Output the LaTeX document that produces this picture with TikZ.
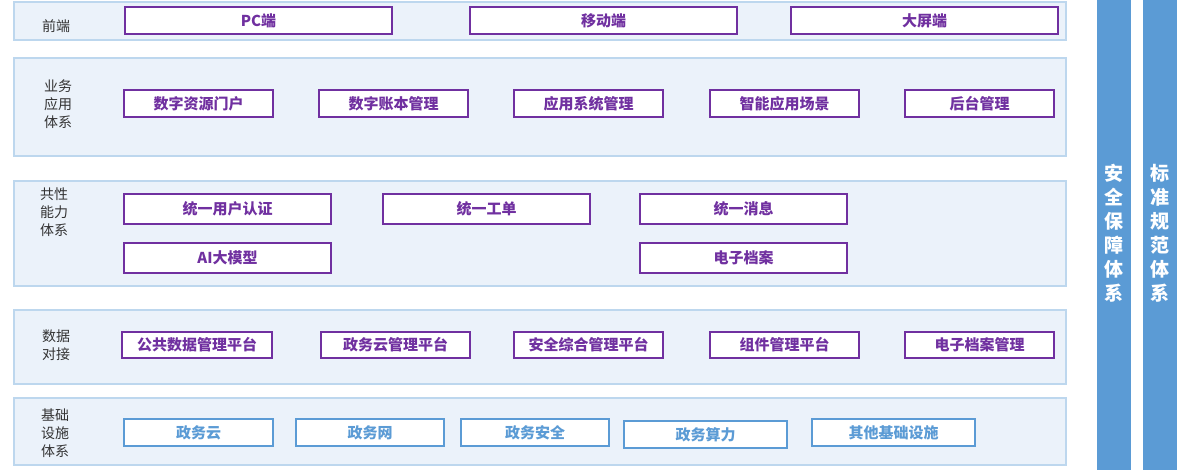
\documentclass[tikz,border=0pt]{standalone}
\usepackage{fontspec}
\newfontfamily\cjk{Noto Sans CJK SC}
\definecolor{panel}{HTML}{EBF2FA}
\definecolor{panelline}{HTML}{BDD7EE}
\definecolor{violet}{HTML}{7030A0}
\definecolor{sky}{HTML}{5B9BD5}
\tikzset{
  layer/.style={draw=panelline, line width=1.5pt, fill=panel},
  item/.style={draw=violet, line width=1.5pt, fill=white, text=violet, font=\cjk\bfseries\fontsize{15}{15}\selectfont},
  base/.style={item, draw=sky, text=sky},
  tag/.style={font=\cjk\fontsize{14}{18}\selectfont, align=center, text=black!80},
  bar/.style={fill=sky, draw=none},
}
\begin{document}
\begin{tikzpicture}[x=1pt,y=-1pt]
  \useasboundingbox (0,0) rectangle (1178,470);
  %layers
  \draw[layer] (14,2) rectangle (1066,40);
  \draw[layer] (14,58) rectangle (1066,156);
  \draw[layer] (14,181) rectangle (1066,286);
  \draw[layer] (14,310) rectangle (1066,384);
  \draw[layer] (14,398) rectangle (1066,465);
  %layer names
  \node[tag] (front) at (56,26) {前端};
  \node[tag] (biz) at (58,104) {业务\\应用\\体系};
  \node[tag] (common) at (54,212) {共性\\能力\\体系};
  \node[tag] (data) at (56,345) {数据\\对接};
  \node[tag] (infra) at (55,433) {基础\\设施\\体系};
  %front
  \draw[item] (125,7) rectangle (392,34) node[midway] (pc) {PC端};
  \draw[item] (470,7) rectangle (737,34) node[midway] (mobile) {移动端};
  \draw[item] (791,7) rectangle (1058,34) node[midway] (screen) {大屏端};
  %business
  \draw[item] (124,90) rectangle (273,117) node[midway] (portal) {数字资源门户};
  \draw[item] (319,90) rectangle (468,117) node[midway] (ledger) {数字账本管理};
  \draw[item] (514,90) rectangle (663,117) node[midway] (appsys) {应用系统管理};
  \draw[item] (710,90) rectangle (859,117) node[midway] (smart) {智能应用场景};
  \draw[item] (905,90) rectangle (1054,117) node[midway] (admin) {后台管理};
  %common
  \draw[item] (124,194) rectangle (331,224) node[midway] (auth) {统一用户认证};
  \draw[item] (383,194) rectangle (590,224) node[midway] (ticket) {统一工单};
  \draw[item] (640,194) rectangle (847,224) node[midway] (msg) {统一消息};
  \draw[item] (124,243) rectangle (331,273) node[midway] (ai) {AI大模型};
  \draw[item] (640,243) rectangle (847,273) node[midway] (archive) {电子档案};
  %data
  \draw[item] (122,332) rectangle (272,358) node[midway] (pubdata) {公共数据管理平台};
  \draw[item] (321,332) rectangle (470,358) node[midway] (cloudmgr) {政务云管理平台};
  \draw[item] (514,332) rectangle (663,358) node[midway] (secmgr) {安全综合管理平台};
  \draw[item] (710,332) rectangle (859,358) node[midway] (compmgr) {组件管理平台};
  \draw[item] (905,332) rectangle (1054,358) node[midway] (archmgr) {电子档案管理};
  %infra
  \draw[base] (124,419) rectangle (273,446) node[midway] (cloud) {政务云};
  \draw[base] (296,419) rectangle (444,446) node[midway] (net) {政务网};
  \draw[base] (461,419) rectangle (609,446) node[midway] (sec) {政务安全};
  \draw[base] (624,421) rectangle (787,448) node[midway] (power) {政务算力};
  \draw[base] (812,419) rectangle (975,446) node[midway] (other) {其他基础设施};
  %side bars
  \fill[bar] (1097,0) rectangle (1131,470);
  \fill[bar] (1143,0) rectangle (1177,470);
  \node[text=white, font=\cjk\bfseries\fontsize{19}{24}\selectfont, align=center] (safety) at (1114,233) {安\\全\\保\\障\\体\\系};
  \node[text=white, font=\cjk\bfseries\fontsize{19}{24}\selectfont, align=center] (norm) at (1160,233) {标\\准\\规\\范\\体\\系};
\end{tikzpicture}
\end{document}
